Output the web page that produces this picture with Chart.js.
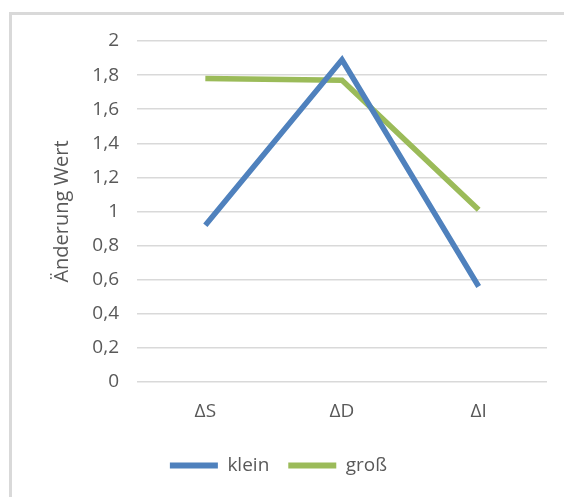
<!DOCTYPE html>
<html>
<head>
<meta charset="utf-8">
<script src="https://cdn.jsdelivr.net/npm/chart.js@4"></script>
<style>
  body { margin: 0; background: #fff; }
  #frame { position: absolute; left: 9px; top: 12px; width: 600px; height: 520px;
           border-left: 3px solid #d9d9d9; border-top: 3px solid #d9d9d9; }
  #chart { position: absolute; left: 0; top: 0; }
</style>
</head>
<body>
<div id="frame"></div>
<canvas id="chart" width="564" height="497"></canvas>
<script>
const categories = ['ΔS', 'ΔD', 'ΔI'];
const klein = [0.92, 1.89, 0.56];
const gross = [1.78, 1.77, 1.01];
const yTickLabels = ['0', '0,2', '0,4', '0,6', '0,8', '1', '1,2', '1,4', '1,6', '1,8', '2'];

const textColor = '#595959';
const fontFamily = '"Open Sans", sans-serif';

new Chart(document.querySelector('#chart').getContext('2d'), {
    type: 'line',
    data: {
        labels: categories,
        datasets: [{
            label: 'klein',
            data: klein,
            borderColor: '#4F81BD',
            backgroundColor: '#4F81BD',
            borderWidth: 5.5,
        }, {
            label: 'groß',
            data: gross,
            borderColor: '#9BBB59',
            backgroundColor: '#9BBB59',
            borderWidth: 5.5,
        }]
    },
    options: {
        responsive: false,
        animation: false,
        elements: {
            point: { radius: 0, hoverRadius: 0 },
            line: { tension: 0, borderJoinStyle: 'miter', borderCapStyle: 'butt' }
        },
        layout: { padding: { left: 10, right: 17, top: 41, bottom: 12 } },
        plugins: {
            tooltip: { enabled: false },
            legend: {
                position: 'bottom',
                labels: {
                    color: textColor,
                    font: { family: fontFamily, size: 19 },
                    boxWidth: 48,
                    boxHeight: 6,
                    padding: 19,
                    // flat bars like the original, no stroke around the box
                    generateLabels: chart => Chart.defaults.plugins.legend.labels.generateLabels(chart)
                        .map(item => ({ ...item, lineWidth: 0 }))
                }
            }
        },
        scales: {
            x: {
                offset: true,
                afterFit: scale => { scale.height = 55; },
                grid: { display: false },
                border: { display: false },
                ticks: {
                    color: textColor,
                    font: { family: fontFamily, size: 19 },
                    padding: 10
                }
            },
            y: {
                min: 0,
                max: 2,
                afterFit: scale => { scale.width = 127; },
                grid: { color: '#d9d9d9', lineWidth: 1.5, drawTicks: false },
                border: { display: false },
                ticks: {
                    stepSize: 0.2,
                    color: textColor,
                    font: { family: fontFamily, size: 19 },
                    padding: 18,
                    callback: (value, index) => yTickLabels[index]
                },
                title: {
                    display: true,
                    text: 'Änderung Wert',
                    color: textColor,
                    font: { family: fontFamily, size: 20 },
                    padding: { top: 40, bottom: 4 }
                }
            }
        }
    }
});
</script>
</body>
</html>
